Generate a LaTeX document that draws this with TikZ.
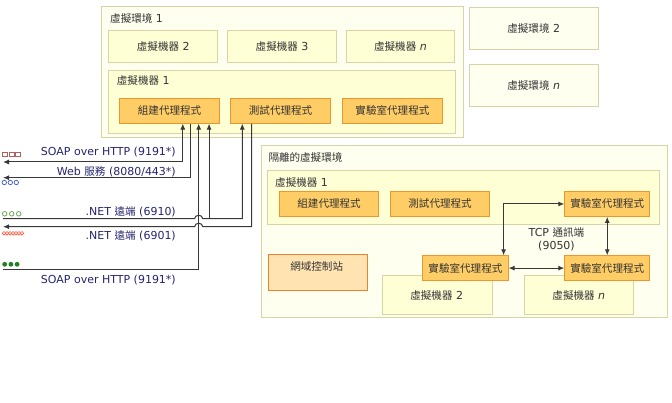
\documentclass[tikz,border=0pt]{standalone}
\usepackage{fontspec}
\setmainfont{DejaVu Sans}
\newfontfamily\cjk{Noto Sans CJK TC}[Scale=0.96]
\usetikzlibrary{arrows.meta,positioning,calc}
\usepackage{color}

\definecolor{envfill}{HTML}{FFFFF0}
\definecolor{envline}{HTML}{D8D4A6}
\definecolor{vmfill}{HTML}{FFFFD6}
\definecolor{agentfill}{HTML}{FFCD66}
\definecolor{agentline}{HTML}{F0952E}
\definecolor{dcfill}{HTML}{FFE4B2}
\definecolor{dcline}{HTML}{EE8030}
\definecolor{txt}{HTML}{333333}
\definecolor{portblue}{HTML}{24246E}
\definecolor{wire}{HTML}{383838}

\newcommand{\zh}[1]{{\cjk #1}}

\tikzset{
  box/.style={draw, rectangle, anchor=north west, inner sep=0pt, text=txt, line width=0.9pt},
  env/.style={box, fill=envfill, draw=envline},
  vm/.style={box, fill=vmfill, draw=envline},
  agent/.style={box, fill=agentfill, draw=agentline},
  dc/.style={box, fill=dcfill, draw=dcline},
  lbl/.style={anchor=west, inner sep=0pt, text=txt},
  port/.style={anchor=east, inner sep=0pt, text=portblue},
  conn/.style={draw=wire, line width=1pt, >={Latex[length=6pt,width=5pt]}},
}

\begin{document}
\begin{tikzpicture}[x=1pt,y=-1pt,font=\fontsize{11}{13}\selectfont]%[scale=0.9]
  \useasboundingbox (0,0) rectangle (672,403);
  % virtual environments
  \node[env, minimum width=362pt, minimum height=131pt] (env1) at (101,6) {};
  \node[lbl] (env1lbl) at (110,18.5) {\zh{虛擬環境} 1};
  \node[env, minimum width=128.5pt, minimum height=42.5pt] (env2) at (469,7) {\zh{虛擬環境} 2};
  \node[env, minimum width=128.5pt, minimum height=42.5pt] (envn) at (469,64) {\zh{虛擬環境} \textit{n}};
  \node[vm, minimum width=109pt, minimum height=32.3pt] (vm2) at (108.3,30) {\zh{虛擬機器} 2};
  \node[vm, minimum width=108.7pt, minimum height=32.3pt] (vm3) at (227.3,30) {\zh{虛擬機器} 3};
  \node[vm, minimum width=108.6pt, minimum height=32.3pt] (vmn) at (345.7,30) {\zh{虛擬機器} \textit{n}};
  \node[vm, minimum width=346.7pt, minimum height=63pt] (vm1) at (108.3,70) {};
  \node[lbl] (vm1lbl) at (116.7,81) {\zh{虛擬機器} 1};
  \node[agent, minimum width=99.7pt, minimum height=24.4pt] (build) at (119.3,98.3) {\zh{組建代理程式}};
  \node[agent, minimum width=99.7pt, minimum height=24.4pt] (test) at (230.3,98.3) {\zh{測試代理程式}};
  \node[agent, minimum width=99.4pt, minimum height=24.4pt] (lab) at (342.3,98.3) {\zh{實驗室代理程式}};

  % isolated environment
  \node[env, minimum width=406.3pt, minimum height=171.4pt] (iso) at (260.7,145.3) {};
  \node[lbl] (isolbl) at (268.3,157) {\zh{隔離的虛擬環境}};
  \node[vm, minimum width=392pt, minimum height=54.3pt] (vmi) at (267.3,170) {};
  \node[lbl] (vmilbl) at (275,182) {\zh{虛擬機器} 1};
  \node[agent, minimum width=99.3pt, minimum height=25pt] (ibuild) at (279,191) {\zh{組建代理程式}};
  \node[agent, minimum width=99.3pt, minimum height=25pt] (itest) at (390,191) {\zh{測試代理程式}};
  \node[agent, minimum width=85pt, minimum height=25pt] (lab1) at (564.3,191) {\zh{實驗室代理程式}};
  \node[dc, minimum width=99.3pt, minimum height=35.4pt] (dc) at (268,254.3) {};
  \node[inner sep=0pt, text=txt] (dclbl) at (316.7,266) {\zh{網域控制站}};
  \node[vm, minimum width=109.4pt, minimum height=38.7pt] (vmb2) at (382.3,275) {};
  \node[inner sep=0pt, text=txt] (vmb2lbl) at (436.7,295) {\zh{虛擬機器} 2};
  \node[agent, minimum width=85.4pt, minimum height=24.7pt] (lab2) at (422.3,255.3) {\zh{實驗室代理程式}};
  \node[vm, minimum width=109pt, minimum height=38.7pt] (vmbn) at (524.3,275) {};
  \node[inner sep=0pt, text=txt] (vmbnlbl) at (578.8,295) {\zh{虛擬機器} \textit{n}};
  \node[agent, minimum width=85pt, minimum height=24.7pt] (labn) at (564.3,255.3) {\zh{實驗室代理程式}};
  \node[inner sep=0pt, text=txt, align=center] (tcp) at (556.5,239) {TCP \zh{通訊端}\\(9050)};

  \draw[conn, <->] ([xshift=-5pt]lab2.north east) |- (lab1.west);
  \draw[conn, <->] (lab2.east) -- (labn.west);
  \draw[conn, <->] (lab1.south) -- (labn.north);

  % ports on the left
  \coordinate (soapa) at (3,162);
  \coordinate (weba) at (3,177.7);
  \coordinate (neta) at (3,218.7);
  \coordinate (netb) at (3,226.7);
  \coordinate (soapb) at (3,269.3);
  \coordinate (bx1) at ([xshift=63.5pt]build.south west);
  \coordinate (bx2) at ([xshift=71.5pt]build.south west);
  \coordinate (bx3) at ([xshift=79.4pt]build.south west);
  \coordinate (bx4) at ([xshift=89.8pt]build.south west);
  \coordinate (tx1) at ([xshift=12pt]test.south west);
  \coordinate (tx2) at ([xshift=21.4pt]test.south west);

  \node[port] (soapalbl) at (176,152) {SOAP over HTTP (9191*)};
  \node[port] (webalbl) at (176,172) {Web \zh{服務} (8080/443*)};
  \node[port] (netalbl) at (176,212) {.NET \zh{遠端} (6910)};
  \node[port] (netblbl) at (176,236) {.NET \zh{遠端} (6901)};
  \node[port] (soapblbl) at (176,280) {SOAP over HTTP (9191*)};

  \draw[conn, <->] (soapa) -| (bx1);
  \draw[conn, <-] (weba) -| (bx2);
  \draw[conn, ->] (neta) -- ($(neta -| bx3)+(-4,0)$)
    arc[start angle=180, end angle=360, x radius=4, y radius=3.5] -| (tx1);
  \draw[conn, ->] (neta -| bx4) -- (bx4);
  \draw[conn, <-] (netb) -- ($(netb -| bx3)+(-4,0)$)
    arc[start angle=180, end angle=360, x radius=4, y radius=3.5] -| (tx2);
  \draw[conn, ->] (soapb) -| (bx3);

  % port markers
  \foreach \i in {0,1,2}
    \draw[color={rgb,255:red,176;green,96;blue,96}, line width=0.8pt] (2.8+6.3*\i,152.3) rectangle ++(5,4);
  \foreach \i in {0,1,2}
    \draw[color={rgb,255:red,70;green,100;blue,200}, line width=0.8pt] (4.3+6*\i,182.5) circle[radius=2.2];
  \foreach \i in {0,1,2}
    \draw[color={rgb,255:red,110;green,170;blue,90}, line width=0.8pt] (4.7+7*\i,213.8) circle[radius=2.3];
  \foreach \i in {0,...,6}
    \draw[color={rgb,255:red,255;green,90;blue,60}, line width=0.7pt] (4+3*\i,233.3) circle[radius=1.8];
  \foreach \i in {0,1,2}
    \fill[color={rgb,255:red,30;green,130;blue,30}] (4.7+6.2*\i,264.3) circle[radius=2.4];
\end{tikzpicture}
\end{document}
